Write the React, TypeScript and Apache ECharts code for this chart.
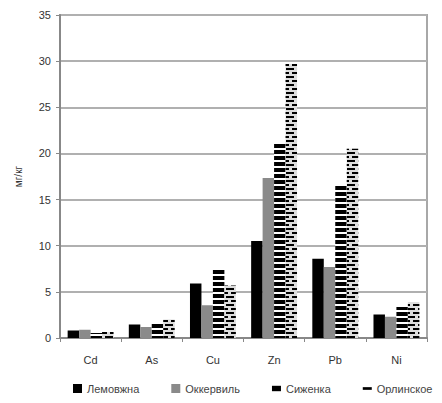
import React, { useEffect, useRef } from "react";
import * as echarts from "echarts";

const categories = ["Cd", "As", "Cu", "Zn", "Pb", "Ni"];
const seriesNames = ["Лемовжна", "Оккервиль", "Сиженка", "Орлинское"];
const lemovzhna = [0.8, 1.45, 5.9, 10.5, 8.6, 2.55];
const okkervil = [0.9, 1.2, 3.55, 17.35, 7.7, 2.3];
const sizhenka = [0.55, 1.55, 7.5, 21.25, 16.55, 3.35];
const orlinskoe = [0.65, 2.0, 5.7, 29.7, 20.5, 3.9];
const yTicks = { min: 0, max: 35, interval: 5 };
const yName = "мг/кг";

export default function App() {
  const ref = useRef<HTMLDivElement>(null);
  useEffect(() => {
    if (!ref.current) return;
    const chart = echarts.init(ref.current, null, { renderer: "svg" });
    const font = "Liberation Sans, Arial, sans-serif";
    const stripeDecal = {
      symbol: "rect",
      symbolSize: 1,
      color: "#000",
      dashArrayX: [1, 0],
      dashArrayY: [3.5, 2],
      rotation: 0,
    };
    const dashDecal = {
      symbol: "rect",
      symbolSize: 1,
      color: "#000",
      dashArrayX: [[8, 3], [3, 3, 5, 0]],
      dashArrayY: [2, 2],
      rotation: 0,
    };
    chart.setOption({
      animation: false,
      grid: {
        left: 60,
        right: 15,
        top: 15,
        bottom: 65,
        show: true,
        borderColor: "#a8a8a8",
        borderWidth: 2,
      },
      legend: {
        bottom: 4,
        left: 68,
        itemWidth: 9,
        itemHeight: 9,
        itemGap: 32,
        textStyle: { fontFamily: font, fontSize: 11, color: "#444" },
        data: [
          { name: seriesNames[0], icon: "rect" },
          { name: seriesNames[1], icon: "rect" },
          {
            name: seriesNames[2],
            icon: "path://M0,0h10v6h-10z",
            itemStyle: { color: "#000", decal: { symbol: "none" } },
          },
          {
            name: seriesNames[3],
            icon: "path://M0,0h10v3h-10z",
            itemStyle: { color: "#000", decal: { symbol: "none" } },
          },
        ],
      },
      xAxis: {
        type: "category",
        data: categories,
        axisLine: { lineStyle: { color: "#888", width: 2 } },
        axisTick: { show: true, length: 4, lineStyle: { color: "#888" } },
        axisLabel: { fontFamily: font, fontSize: 11, color: "#333", margin: 16 },
      },
      yAxis: {
        type: "value",
        min: yTicks.min,
        max: yTicks.max,
        interval: yTicks.interval,
        name: yName,
        nameLocation: "middle",
        nameRotate: 90,
        nameGap: 37,
        nameTextStyle: { fontFamily: font, fontSize: 10, color: "#333" },
        axisLine: { show: true, lineStyle: { color: "#888", width: 2 } },
        axisTick: { show: true, length: 4, lineStyle: { color: "#888" } },
        axisLabel: { fontFamily: font, fontSize: 11, color: "#333", margin: 9 },
        splitLine: { lineStyle: { color: "#b0b0b0", width: 2 } },
      },
      series: [
        {
          name: seriesNames[0],
          type: "bar",
          data: lemovzhna,
          barGap: "0%",
          barCategoryGap: "25%",
          itemStyle: { color: "#000" },
        },
        {
          name: seriesNames[1],
          type: "bar",
          data: okkervil,
          barGap: "0%",
          barCategoryGap: "25%",
          itemStyle: { color: "#8a8a8a" },
        },
        {
          name: seriesNames[2],
          type: "bar",
          data: sizhenka,
          barGap: "0%",
          barCategoryGap: "25%",
          itemStyle: { color: "#fff", decal: stripeDecal },
        },
        {
          name: seriesNames[3],
          type: "bar",
          data: orlinskoe,
          barGap: "0%",
          barCategoryGap: "25%",
          itemStyle: { color: "#ddd", decal: dashDecal },
        },
      ],
    });
    return () => chart.dispose();
  }, []);
  return <div ref={ref} style={{ width: 442, height: 403, marginLeft: -8, marginTop: -8 }} />;
}
